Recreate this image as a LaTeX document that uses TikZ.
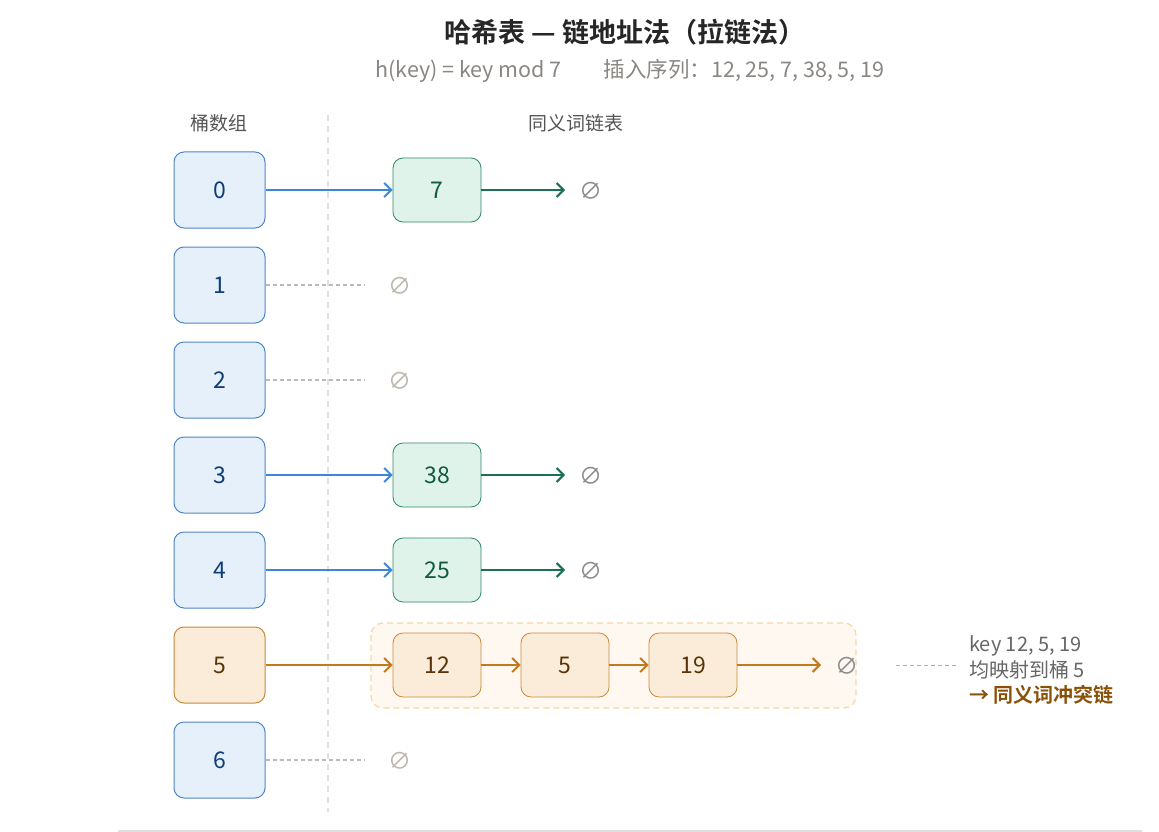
\documentclass[tikz,border=0pt]{standalone}
\usepackage{fontspec}
\setmainfont{Noto Sans CJK SC}
\newfontfamily\cjkb{Noto Sans CJK SC Bold}
\usetikzlibrary{arrows.meta}
\definecolor{bfill}{HTML}{E6F0FA}
\definecolor{bdraw}{HTML}{4F86C6}
\definecolor{btext}{HTML}{0E3D78}
\definecolor{barrow}{HTML}{3A86D8}
\definecolor{gfill}{HTML}{E0F3EB}
\definecolor{gdraw}{HTML}{2E8A66}
\definecolor{gtext}{HTML}{0F5A40}
\definecolor{garrow}{HTML}{1A7052}
\definecolor{ofill}{HTML}{FAECD8}
\definecolor{odraw}{HTML}{C98A3A}
\definecolor{otext}{HTML}{5A3408}
\definecolor{oarrow}{HTML}{C27A1C}
\definecolor{grpfill}{HTML}{FEF8F0}
\definecolor{grpdraw}{HTML}{F6D7A6}
\definecolor{subgray}{HTML}{8A8682}
\definecolor{hdgray}{HTML}{555555}
\definecolor{nullgray}{HTML}{8C8C8C}
\definecolor{nulllight}{HTML}{BDB6AC}
\definecolor{divgray}{HTML}{E2E0DC}
\definecolor{emptyline}{HTML}{BDBAB4}
\definecolor{notebrown}{HTML}{8A5208}
\definecolor{notegray}{HTML}{666666}
\begin{document}
\begin{tikzpicture}[x=1pt,y=-1pt,
  bucket/.style={draw=bdraw,fill=bfill,line width=1pt,rounded corners=10pt,minimum width=91pt,minimum height=76pt,inner sep=0pt,text=btext,font=\fontsize{23}{27}\selectfont},
  bucketo/.style={bucket,draw=odraw,fill=ofill,text=otext},
  gnode/.style={draw=gdraw,fill=gfill,line width=0.8pt,rounded corners=10pt,minimum width=88pt,minimum height=64pt,inner sep=0pt,text=gtext,font=\fontsize{23}{27}\selectfont},
  onode/.style={gnode,draw=odraw,fill=ofill,text=otext},
  nullsym/.style={text=nullgray,font=\fontsize{23}{27}\selectfont,inner sep=0pt},
  nullempty/.style={nullsym,text=nulllight},
  tip/.style={-{Straight Barb[length=7pt,width=14pt,line width=2pt]}},
  barr/.style={tip,draw=barrow,line width=2pt},
  garr/.style={tip,draw=garrow,line width=2pt},
  oarr/.style={tip,draw=oarrow,line width=2pt},
  emptyln/.style={draw=emptyline,line width=1.5pt,dash pattern=on 4pt off 3pt},
  hdr/.style={text=hdgray,font=\fontsize{19}{22}\selectfont},
  note/.style={anchor=west,text=notegray,font=\fontsize{20}{23}\selectfont,inner sep=0pt},
]
\useasboundingbox (0,0) rectangle (1159,832);
\fill[white] (0,0) rectangle (1159,832);
% title
\node (title) at (625,32) {\cjkb\fontsize{27}{31}\selectfont\color{black!85} 哈希表 — 链地址法（拉链法）};
\node[text=subgray,font=\fontsize{21.5}{25}\selectfont] (sub) at (630,71) {h(key) = key mod 7\hspace{42pt}插入序列：12, 25, 7, 38, 5, 19};
% headers
\node[hdr] (h1) at (219,123) {桶数组};
\node[hdr] (h2) at (576,123) {同义词链表};
% divider
\draw[divgray,line width=1.5pt,dash pattern=on 6pt off 5pt] (328,115) coordinate (dtop) -- (328,812) coordinate (dbot);
% bottom line
\draw[divgray,line width=1.5pt] (118,831) coordinate (bl) -- (1142,831) coordinate (br);
% group box
\draw[draw=grpdraw,fill=grpfill,line width=1.2pt,dash pattern=on 6pt off 4pt,rounded corners=12pt] (371,623) rectangle (856,708);
% buckets
\node[bucket] (b0) at (219.5,190) {0};
\node[bucket] (b1) at (219.5,285) {1};
\node[bucket] (b2) at (219.5,380) {2};
\node[bucket] (b3) at (219.5,475) {3};
\node[bucket] (b4) at (219.5,570) {4};
\node[bucketo] (b5) at (219.5,665) {5};
\node[bucket] (b6) at (219.5,760) {6};
% chain nodes
\node[gnode] (n7) at (437,190) {7};
\node[gnode] (n38) at (437,475) {38};
\node[gnode] (n25) at (437,570) {25};
\node[onode] (n12) at (437,665) {12};
\node[onode] (n5) at (565,665) {5};
\node[onode] (n19) at (693,665) {19};
% nulls
\node[nullsym] (z0) at (591,191) {∅};
\node[nullsym] (z3) at (591,476) {∅};
\node[nullsym] (z4) at (591,571) {∅};
\node[nullsym] (z5) at (847,666) {∅};
\node[nullempty] (z1) at (400,286) {∅};
\node[nullempty] (z2) at (400,381) {∅};
\node[nullempty] (z6) at (400,761) {∅};
% arrows
\draw[barr] (b0.east) -- (n7.west);
\draw[barr] (b3.east) -- (n38.west);
\draw[barr] (b4.east) -- (n25.west);
\draw[oarr] (b5.east) -- (n12.west);
\draw[oarr] (n12.east) -- (n5.west);
\draw[oarr] (n5.east) -- (n19.west);
\draw[oarr,shorten >=26pt] (n19.east) -- (z5.center |- n19.east);
\draw[garr,shorten >=26pt] (n7.east) -- (z0.center |- n7.east);
\draw[garr,shorten >=26pt] (n38.east) -- (z3.center |- n38.east);
\draw[garr,shorten >=26pt] (n25.east) -- (z4.center |- n25.east);
% empty rows
\draw[emptyln] (b1.east) -- (365,285) coordinate (e1);
\draw[emptyln] (b2.east) -- (365,380) coordinate (e2);
\draw[emptyln] (b6.east) -- (365,760) coordinate (e6);
% annotation
\draw[draw=nullgray!70,line width=1pt,dash pattern=on 4pt off 3pt] (896,665) coordinate (a1) -- (956,665) coordinate (a2);
\node[note] (t1) at (969,646) {key 12, 5, 19};
\node[note] (t2) at (969,670) {均映射到桶 5};
\node[note,text=notebrown,font=\cjkb\fontsize{20}{23}\selectfont] (t3) at (969,695) {→ 同义词冲突链};
\end{tikzpicture}
\end{document}
